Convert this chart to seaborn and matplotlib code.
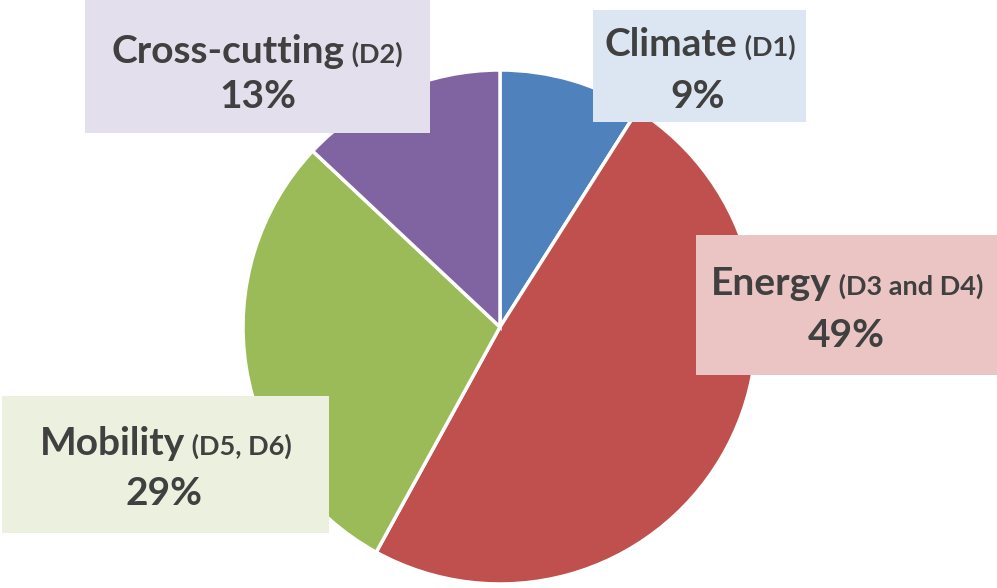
import matplotlib
matplotlib.use("Agg")
import matplotlib.pyplot as plt
import seaborn as sns
from matplotlib.patches import Rectangle

# data
names = ["Climate", "Energy", "Mobility", "Cross-cutting"]
codes = ["(D1)", "(D3 and D4)", "(D5, D6)", "(D2)"]
shares = [9, 49, 29, 13]
slice_colors = ["#4F81BD", "#C0504D", "#9BBB59", "#8064A2"]
box_colors = ["#DCE6F2", "#EBC5C4", "#EBF1DE", "#E4DFEC"]

sns.set_style("white")
plt.rcParams['font.family'] = ['Lato', 'DejaVu Sans']

W, H = 997, 588
fig = plt.figure(figsize=(W / 100, H / 100), dpi=100)
ax = fig.add_axes([0, 0, 1, 1])
ax.set_xlim(0, W)
ax.set_ylim(H, 0)
ax.set_aspect('equal')
ax.axis('off')

# pie in pixel space (y flipped, so counterclock=True gives clockwise on screen)
ax.pie(shares, colors=slice_colors, startangle=-90, counterclock=True,
       center=(500, 327), radius=257, frame=True,
       wedgeprops=dict(edgecolor='white', linewidth=2.5))
ax.set_xlim(0, W)
ax.set_ylim(H, 0)
ax.axis('off')

# label boxes: (x0, y0, x1, y1) and text anchors
boxes = [(593, 10, 806, 122), (696, 235, 997, 375), (2, 396, 329, 533), (85, 0, 430, 133)]
line1 = [(700, 56), (847, 295), (166, 455), (257, 63)]
line2 = [(698, 108), (846, 347), (164, 505), (258, 108)]

txt_color = "#404040"
fig.canvas.draw()
renderer = fig.canvas.get_renderer()
for i in range(len(names)):
    x0, y0, x1, y1 = boxes[i]
    ax.add_patch(Rectangle((x0, y0), x1 - x0, y1 - y0, facecolor=box_colors[i],
                           edgecolor='none', zorder=3))
    t1 = ax.text(0, line1[i][1], names[i], fontsize=28, fontweight='bold',
                 color=txt_color, ha='left', va='baseline', zorder=4)
    t2 = ax.text(0, line1[i][1], " " + codes[i], fontsize=19.5, fontweight='bold',
                 color=txt_color, ha='left', va='baseline', zorder=4)
    w1 = t1.get_window_extent(renderer).width
    w2 = t2.get_window_extent(renderer).width
    start = line1[i][0] - (w1 + w2) / 2
    t1.set_x(start)
    t2.set_x(start + w1)
    ax.text(line2[i][0], line2[i][1], f"{shares[i]}%", fontsize=28, fontweight='bold',
            color=txt_color, ha='center', va='baseline', zorder=4)

fig.savefig("out.png", dpi=100)
